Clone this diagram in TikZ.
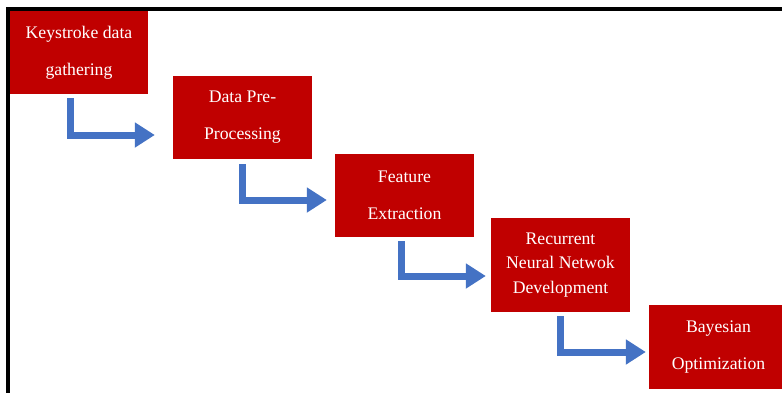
\documentclass[tikz,border=0pt]{standalone}
\usepackage{fontspec}
\setmainfont{Liberation Serif}
\usetikzlibrary{arrows.meta}
\definecolor{boxred}{HTML}{C00000}
\definecolor{flowblue}{HTML}{4472C4}
\tikzset{
  stepbox/.style={fill=boxred, text=white, inner sep=0pt, align=center,
    minimum width=139pt, minimum height=83pt,
    font=\fontsize{17.7}{37}\selectfont},
  flow/.style={draw=flowblue, line width=7pt,
    -{Triangle[length=20pt,width=24pt]}},
}
\begin{document}
\begin{tikzpicture}[x=1pt,y=-1pt]
\useasboundingbox (0,0) rectangle (782,392);
\clip (0,0) rectangle (782,392);
\fill[white] (0,0) rectangle (782,392);
% boxes
\node[stepbox, minimum width=138pt] (b1) at (79,52.5) {Keystroke data\\gathering};
\node[stepbox] (b2) at (242.5,117.5) {Data Pre-\\Processing};
\node[stepbox] (b3) at (404.5,195.5) {Feature\\Extraction};
\node[stepbox, minimum height=94pt, font=\fontsize{17.7}{24.5}\selectfont] (b4) at (560.5,265) {Recurrent\\Neural Netwok\\Development};
\node[stepbox, minimum height=84pt] (b5) at (718.5,347) {Bayesian\\Optimization};
% arrows
\draw[flow] ([xshift=60.5pt,yshift=-4pt]b1.south west) |- ([xshift=-18pt,yshift=-17.5pt]b2.west);
\draw[flow] ([xshift=69.5pt,yshift=-5pt]b2.south west) |- ([xshift=-8pt,yshift=-4.5pt]b3.west);
\draw[flow] ([xshift=66.5pt,yshift=-4pt]b3.south west) |- ([xshift=-5pt,yshift=-11pt]b4.west);
\draw[flow] ([xshift=70pt,yshift=-4pt]b4.south west) |- ([xshift=-3pt,yshift=-5pt]b5.west);
% frame
\draw[line width=4pt, black] (8,9) rectangle (800,410);
\end{tikzpicture}
\end{document}
